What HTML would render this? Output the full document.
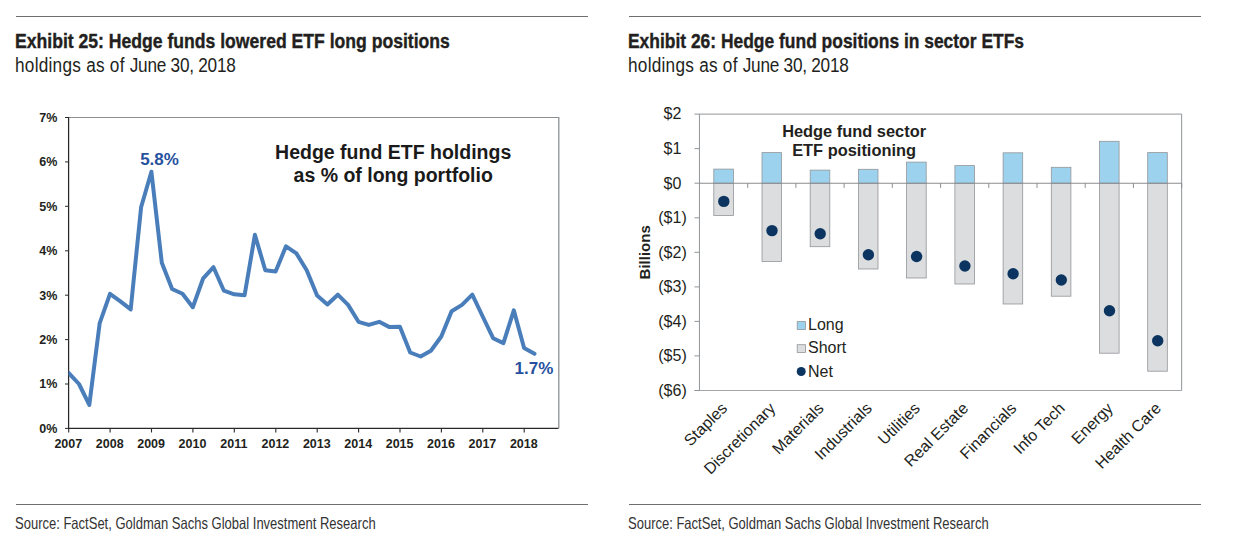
<!DOCTYPE html>
<html lang="en">
<head>
<meta charset="utf-8">
<title>Exhibit 25 and Exhibit 26: Hedge fund ETF positions</title>
<style>
html,body{margin:0;padding:0;background:#fff}
body{width:1241px;height:547px;position:relative;overflow:hidden;font-family:"Liberation Sans", sans-serif;color:#231f20}
.panel{position:absolute;top:0;height:547px}
.rule{position:absolute;left:0;right:0;height:1px;background:#6d6e71}
.title,.sub,.src{position:absolute;left:0;margin:0;white-space:nowrap;transform-origin:0 0;line-height:1}
.title{font-weight:bold;font-size:20.5px;top:31px;left:-1px;transform:scaleX(.858);-webkit-text-stroke:.4px #231f20}
.sub{font-size:19.5px;top:55.6px;left:-1px;transform:scaleX(.882)}
.sub .a{letter-spacing:.29px}
.sub .b{letter-spacing:-.28px}
.src{font-size:16.5px;top:515px;left:-1px;transform:scaleX(.788);color:#333}
svg{position:absolute;left:0;top:0}
svg text{font-family:"Liberation Sans", sans-serif;fill:#231f20}
.lb{font-size:12.5px;font-weight:bold}
.an{font-size:17px;font-weight:bold;fill:#27519e}
.ct{font-size:19.5px;font-weight:bold;fill:#1a1a1a}
.yl{font-size:16px}
.cl{font-size:16px}
.rt{font-size:16.4px;font-weight:bold}
.bl{font-size:15px;font-weight:bold}
</style>
</head>
<body>
<svg width="1241" height="547" viewBox="0 0 1241 547">
<g id="chart-left">
<rect x="68.6" y="117.5" width="490.3" height="310.9" fill="#fff" stroke="none"/>
<path d="M68.6 117.5H558.8" fill="none" stroke="#8e9194" stroke-width="1.1"/>
<path d="M558.8 117V428.4" fill="none" stroke="#8e9194" stroke-width="1.3"/>
<path d="M68.6 117V429M68 428.4H558.4" fill="none" stroke="#2b2829" stroke-width="1.25"/>
<path d="M65 428.4H68.6" stroke="#2b2829" stroke-width="1"/>
<text x="57.3" y="432.7" text-anchor="end" class="lb">0%</text>
<path d="M65 384.0H68.6" stroke="#2b2829" stroke-width="1"/>
<text x="57.3" y="388.3" text-anchor="end" class="lb">1%</text>
<path d="M65 339.6H68.6" stroke="#2b2829" stroke-width="1"/>
<text x="57.3" y="343.9" text-anchor="end" class="lb">2%</text>
<path d="M65 295.2H68.6" stroke="#2b2829" stroke-width="1"/>
<text x="57.3" y="299.5" text-anchor="end" class="lb">3%</text>
<path d="M65 250.8H68.6" stroke="#2b2829" stroke-width="1"/>
<text x="57.3" y="255.1" text-anchor="end" class="lb">4%</text>
<path d="M65 206.3H68.6" stroke="#2b2829" stroke-width="1"/>
<text x="57.3" y="210.7" text-anchor="end" class="lb">5%</text>
<path d="M65 161.9H68.6" stroke="#2b2829" stroke-width="1"/>
<text x="57.3" y="166.2" text-anchor="end" class="lb">6%</text>
<path d="M65 117.5H68.6" stroke="#2b2829" stroke-width="1"/>
<text x="57.3" y="121.8" text-anchor="end" class="lb">7%</text>
<path d="M68.7 428.4V432.5" stroke="#2b2829" stroke-width="1.1"/>
<text x="68.3" y="448.2" text-anchor="middle" class="lb">2007</text>
<path d="M110.1 428.4V432.5" stroke="#2b2829" stroke-width="1.1"/>
<text x="109.7" y="448.2" text-anchor="middle" class="lb">2008</text>
<path d="M151.5 428.4V432.5" stroke="#2b2829" stroke-width="1.1"/>
<text x="151.1" y="448.2" text-anchor="middle" class="lb">2009</text>
<path d="M192.9 428.4V432.5" stroke="#2b2829" stroke-width="1.1"/>
<text x="192.5" y="448.2" text-anchor="middle" class="lb">2010</text>
<path d="M234.3 428.4V432.5" stroke="#2b2829" stroke-width="1.1"/>
<text x="233.9" y="448.2" text-anchor="middle" class="lb">2011</text>
<path d="M275.8 428.4V432.5" stroke="#2b2829" stroke-width="1.1"/>
<text x="275.4" y="448.2" text-anchor="middle" class="lb">2012</text>
<path d="M317.2 428.4V432.5" stroke="#2b2829" stroke-width="1.1"/>
<text x="316.8" y="448.2" text-anchor="middle" class="lb">2013</text>
<path d="M358.6 428.4V432.5" stroke="#2b2829" stroke-width="1.1"/>
<text x="358.2" y="448.2" text-anchor="middle" class="lb">2014</text>
<path d="M400.0 428.4V432.5" stroke="#2b2829" stroke-width="1.1"/>
<text x="399.6" y="448.2" text-anchor="middle" class="lb">2015</text>
<path d="M441.4 428.4V432.5" stroke="#2b2829" stroke-width="1.1"/>
<text x="441.0" y="448.2" text-anchor="middle" class="lb">2016</text>
<path d="M482.8 428.4V432.5" stroke="#2b2829" stroke-width="1.1"/>
<text x="482.4" y="448.2" text-anchor="middle" class="lb">2017</text>
<path d="M524.2 428.4V432.5" stroke="#2b2829" stroke-width="1.1"/>
<text x="523.8" y="448.2" text-anchor="middle" class="lb">2018</text>
<clipPath id="plotclip"><rect x="68.6" y="117.5" width="490.3" height="310.9"/></clipPath>
<polyline clip-path="url(#plotclip)" points="68.6,372.9 79.0,384.0 89.3,404.9 99.7,323.1 110.0,293.8 120.4,301.4 130.7,309.4 141.1,207.2 151.4,171.7 161.8,262.8 172.1,289.0 182.5,293.8 192.8,307.2 203.2,278.3 213.5,267.2 223.9,290.7 234.2,294.3 244.6,295.2 254.9,234.8 265.3,270.3 275.6,271.6 286.0,246.3 296.4,253.4 306.7,270.3 317.1,295.6 327.4,304.5 337.8,294.7 348.1,304.9 358.5,321.8 368.8,324.9 379.2,321.8 389.5,327.1 399.9,326.7 410.2,352.5 420.6,356.5 430.9,350.7 441.3,336.5 451.6,311.2 462.0,304.9 472.3,294.7 482.7,316.5 493.1,338.2 503.4,343.1 513.8,310.3 524.1,348.0 534.5,353.8" fill="none" stroke="#4a7ebb" stroke-width="4" stroke-linejoin="round" stroke-linecap="round"/>
<text x="159.5" y="164.8" text-anchor="middle" class="an">5.8%</text>
<text x="533.9" y="373.8" text-anchor="middle" class="an">1.7%</text>
<text x="393.2" y="158.5" text-anchor="middle" class="ct">Hedge fund ETF holdings</text>
<text x="393.2" y="181.5" text-anchor="middle" class="ct">as % of long portfolio</text>
</g>
<g id="chart-right">
<rect x="699.45" y="114.1" width="482.2" height="276.4" fill="#fff" stroke="none"/>
<path d="M699.45 390.5V114.1H1181.65V390.5" fill="none" stroke="#919497" stroke-width="1"/>
<path d="M694.5 390.5H1181.65" fill="none" stroke="#a3a5a8" stroke-width="1"/>
<path d="M694.5 114.1H699.45" stroke="#919497" stroke-width="1"/>
<text x="672.5" y="119.4" text-anchor="middle" class="yl">$2</text>
<path d="M694.5 148.6H699.45" stroke="#919497" stroke-width="1"/>
<text x="672.5" y="153.9" text-anchor="middle" class="yl">$1</text>
<path d="M694.5 183.2H699.45" stroke="#919497" stroke-width="1"/>
<text x="672.5" y="188.5" text-anchor="middle" class="yl">$0</text>
<path d="M694.5 217.8H699.45" stroke="#919497" stroke-width="1"/>
<text x="672.5" y="223.1" text-anchor="middle" class="yl">($1)</text>
<path d="M694.5 252.3H699.45" stroke="#919497" stroke-width="1"/>
<text x="672.5" y="257.6" text-anchor="middle" class="yl">($2)</text>
<path d="M694.5 286.9H699.45" stroke="#919497" stroke-width="1"/>
<text x="672.5" y="292.2" text-anchor="middle" class="yl">($3)</text>
<path d="M694.5 321.4H699.45" stroke="#919497" stroke-width="1"/>
<text x="672.5" y="326.7" text-anchor="middle" class="yl">($4)</text>
<path d="M694.5 355.9H699.45" stroke="#919497" stroke-width="1"/>
<text x="672.5" y="361.2" text-anchor="middle" class="yl">($5)</text>
<path d="M694.5 390.5H699.45" stroke="#919497" stroke-width="1"/>
<text x="672.5" y="395.8" text-anchor="middle" class="yl">($6)</text>
<rect x="713.8" y="183.2" width="19.6" height="32.3" fill="#dcddde" stroke="#939598" stroke-width="0.8"/>
<rect x="713.8" y="169.1" width="19.6" height="14.1" fill="#9dd2ee" stroke="#939598" stroke-width="0.8"/>
<rect x="762.0" y="183.2" width="19.6" height="78.3" fill="#dcddde" stroke="#939598" stroke-width="0.8"/>
<rect x="762.0" y="152.6" width="19.6" height="30.6" fill="#9dd2ee" stroke="#939598" stroke-width="0.8"/>
<rect x="810.2" y="183.2" width="19.6" height="63.5" fill="#dcddde" stroke="#939598" stroke-width="0.8"/>
<rect x="810.2" y="170.1" width="19.6" height="13.1" fill="#9dd2ee" stroke="#939598" stroke-width="0.8"/>
<rect x="858.4" y="183.2" width="19.6" height="85.8" fill="#dcddde" stroke="#939598" stroke-width="0.8"/>
<rect x="858.4" y="169.3" width="19.6" height="13.9" fill="#9dd2ee" stroke="#939598" stroke-width="0.8"/>
<rect x="906.6" y="183.2" width="19.6" height="94.8" fill="#dcddde" stroke="#939598" stroke-width="0.8"/>
<rect x="906.6" y="162.1" width="19.6" height="21.1" fill="#9dd2ee" stroke="#939598" stroke-width="0.8"/>
<rect x="954.9" y="183.2" width="19.6" height="100.8" fill="#dcddde" stroke="#939598" stroke-width="0.8"/>
<rect x="954.9" y="165.6" width="19.6" height="17.6" fill="#9dd2ee" stroke="#939598" stroke-width="0.8"/>
<rect x="1003.1" y="183.2" width="19.6" height="120.8" fill="#dcddde" stroke="#939598" stroke-width="0.8"/>
<rect x="1003.1" y="152.8" width="19.6" height="30.4" fill="#9dd2ee" stroke="#939598" stroke-width="0.8"/>
<rect x="1051.3" y="183.2" width="19.6" height="113.0" fill="#dcddde" stroke="#939598" stroke-width="0.8"/>
<rect x="1051.3" y="167.3" width="19.6" height="15.9" fill="#9dd2ee" stroke="#939598" stroke-width="0.8"/>
<rect x="1099.5" y="183.2" width="19.6" height="170.0" fill="#dcddde" stroke="#939598" stroke-width="0.8"/>
<rect x="1099.5" y="141.3" width="19.6" height="41.9" fill="#9dd2ee" stroke="#939598" stroke-width="0.8"/>
<rect x="1147.7" y="183.2" width="19.6" height="188.0" fill="#dcddde" stroke="#939598" stroke-width="0.8"/>
<rect x="1147.7" y="152.6" width="19.6" height="30.6" fill="#9dd2ee" stroke="#939598" stroke-width="0.8"/>
<path d="M699.45 183.2H1181.65" stroke="#8a8d90" stroke-width="1.1"/>
<path d="M747.7 183.2V187.9" stroke="#8a8d90" stroke-width="1"/>
<path d="M795.9 183.2V187.9" stroke="#8a8d90" stroke-width="1"/>
<path d="M844.1 183.2V187.9" stroke="#8a8d90" stroke-width="1"/>
<path d="M892.3 183.2V187.9" stroke="#8a8d90" stroke-width="1"/>
<path d="M940.6 183.2V187.9" stroke="#8a8d90" stroke-width="1"/>
<path d="M988.8 183.2V187.9" stroke="#8a8d90" stroke-width="1"/>
<path d="M1037.0 183.2V187.9" stroke="#8a8d90" stroke-width="1"/>
<path d="M1085.2 183.2V187.9" stroke="#8a8d90" stroke-width="1"/>
<path d="M1133.4 183.2V187.9" stroke="#8a8d90" stroke-width="1"/>
<path d="M1181.7 183.2V187.9" stroke="#8a8d90" stroke-width="1"/>
<circle cx="723.8" cy="201.4" r="5.7" fill="#0b3560"/>
<circle cx="772.0" cy="230.6" r="5.7" fill="#0b3560"/>
<circle cx="820.2" cy="233.7" r="5.7" fill="#0b3560"/>
<circle cx="868.4" cy="254.8" r="5.7" fill="#0b3560"/>
<circle cx="916.6" cy="256.5" r="5.7" fill="#0b3560"/>
<circle cx="964.9" cy="266.0" r="5.7" fill="#0b3560"/>
<circle cx="1013.1" cy="273.8" r="5.7" fill="#0b3560"/>
<circle cx="1061.3" cy="280.0" r="5.7" fill="#0b3560"/>
<circle cx="1109.5" cy="310.8" r="5.7" fill="#0b3560"/>
<circle cx="1157.7" cy="340.8" r="5.7" fill="#0b3560"/>
<text transform="translate(728.2 409.3) rotate(-45)" text-anchor="end" class="cl">Staples</text>
<text transform="translate(776.4 409.3) rotate(-45)" text-anchor="end" class="cl">Discretionary</text>
<text transform="translate(824.6 409.3) rotate(-45)" text-anchor="end" class="cl">Materials</text>
<text transform="translate(872.8 409.3) rotate(-45)" text-anchor="end" class="cl">Industrials</text>
<text transform="translate(921.0 409.3) rotate(-45)" text-anchor="end" class="cl">Utilities</text>
<text transform="translate(969.3 409.3) rotate(-45)" text-anchor="end" class="cl">Real Estate</text>
<text transform="translate(1017.5 409.3) rotate(-45)" text-anchor="end" class="cl">Financials</text>
<text transform="translate(1065.7 409.3) rotate(-45)" text-anchor="end" class="cl">Info Tech</text>
<text transform="translate(1113.9 409.3) rotate(-45)" text-anchor="end" class="cl">Energy</text>
<text transform="translate(1162.1 409.3) rotate(-45)" text-anchor="end" class="cl">Health Care</text>
<text x="854.1" y="136.6" text-anchor="middle" class="rt">Hedge fund sector</text>
<text x="854.1" y="156.1" text-anchor="middle" class="rt">ETF positioning</text>
<text transform="translate(650.3 252.3) rotate(-90)" text-anchor="middle" class="bl">Billions</text>
<rect x="797.2" y="321.6" width="8.2" height="7.8" fill="#9dd2ee" stroke="#939598" stroke-width="0.8"/>
<text x="808" y="329.9" class="yl">Long</text>
<rect x="797.2" y="344.7" width="8.2" height="7.8" fill="#dcddde" stroke="#939598" stroke-width="0.8"/>
<text x="808" y="353.2" class="yl">Short</text>
<circle cx="801.2" cy="371.5" r="4.5" fill="#0b3560"/>
<text x="808" y="376.5" class="yl">Net</text>
</g>
</svg>
<section class="panel" style="left:16.4px;width:571.5px">
<div class="rule" style="top:16px"></div>
<h2 class="title">Exhibit 25: Hedge funds lowered ETF long positions</h2>
<p class="sub"><span class="a">holdings as of </span><span class="b">June 30, 2018</span></p>
<div class="rule" style="top:504px"></div>
<p class="src">Source: FactSet, Goldman Sachs Global Investment Research</p>
</section>
<section class="panel" style="left:628.7px;width:572.3px">
<div class="rule" style="top:16px"></div>
<h2 class="title" style="transform:scaleX(.850)">Exhibit 26: Hedge fund positions in sector ETFs</h2>
<p class="sub"><span class="a">holdings as of </span><span class="b">June 30, 2018</span></p>
<div class="rule" style="top:504px"></div>
<p class="src">Source: FactSet, Goldman Sachs Global Investment Research</p>
</section>
</body>
</html>
